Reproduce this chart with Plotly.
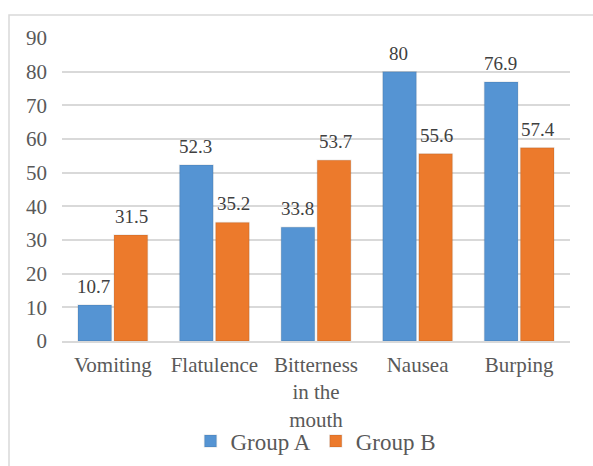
import plotly.graph_objects as go

# Symptom categories and the share of each group reporting them
categories = ["Vomiting", "Flatulence", "Bitterness<br>in the<br>mouth", "Nausea", "Burping"]
group_a = [10.7, 52.3, 33.8, 80, 76.9]
group_b = [31.5, 35.2, 53.7, 55.6, 57.4]
y_ticks = [0, 10, 20, 30, 40, 50, 60, 70, 80, 90]

W, H = 593, 466
ML, MR, MT, MB = 62, 23, 38, 125
FONT = "'Liberation Serif', 'Times New Roman', Times, serif"
TEXT = "#595959"
GRID = "#d9d9d9"

fig = go.Figure()
series = [("Group A", group_a, "#5594d3"), ("Group B", group_b, "#ec7a2c")]
for name, vals, color in series:
    fig.add_trace(go.Bar(
        name=name, x=categories, y=vals,
        marker=dict(color=color, line=dict(color="rgba(0,0,0,0.08)", width=1.5)),
    ))

# value labels above each bar
for (name, vals, _), shift in zip(series, (-19, 19)):
    for cat, v in zip(categories, vals):
        fig.add_annotation(
            x=cat, y=v, text=f"{v:g}", showarrow=False,
            xshift=shift, yshift=6, yanchor="bottom",
            font=dict(family=FONT, size=19, color="#404040"),
        )

pw = W - ML - MR
ph = H - MT - MB
# outer chart frame
fig.add_shape(
    type="rect", xref="paper", yref="paper",
    x0=(9 - ML) / pw, x1=(W + 20 - ML) / pw,
    y0=(H - MB - (H + 20)) / ph, y1=(H - MB - 15) / ph,
    line=dict(color=GRID, width=1.5), fillcolor="rgba(0,0,0,0)", layer="below",
)

fig.update_layout(
    width=W, height=H,
    margin=dict(l=ML, r=MR, t=MT, b=MB, autoexpand=False),
    paper_bgcolor="white", plot_bgcolor="white",
    barmode="group", bargap=0.29, bargroupgap=0.07,
    font=dict(family=FONT, color=TEXT, size=21),
    showlegend=True,
    legend=dict(
        orientation="h", x=0.5, xanchor="center",
        y=(H - MB - 441) / ph, yanchor="middle",
        bgcolor="rgba(0,0,0,0)",
        font=dict(family=FONT, size=23, color=TEXT),
        itemwidth=30, tracegroupgap=0,
    ),
    xaxis=dict(
        automargin=False,
        showgrid=False, showline=True, linecolor=GRID, linewidth=1.5,
        tickfont=dict(family=FONT, size=21, color=TEXT),
        ticklabelstandoff=4,
    ),
    yaxis=dict(
        automargin=False,
        range=[0, 90], tickvals=y_ticks, showgrid=True, gridcolor=GRID, gridwidth=1.5,
        zeroline=False, showline=False,
        tickfont=dict(family=FONT, size=21, color=TEXT),
        ticklabelstandoff=14,
    ),
)

fig.write_html("out.html")
